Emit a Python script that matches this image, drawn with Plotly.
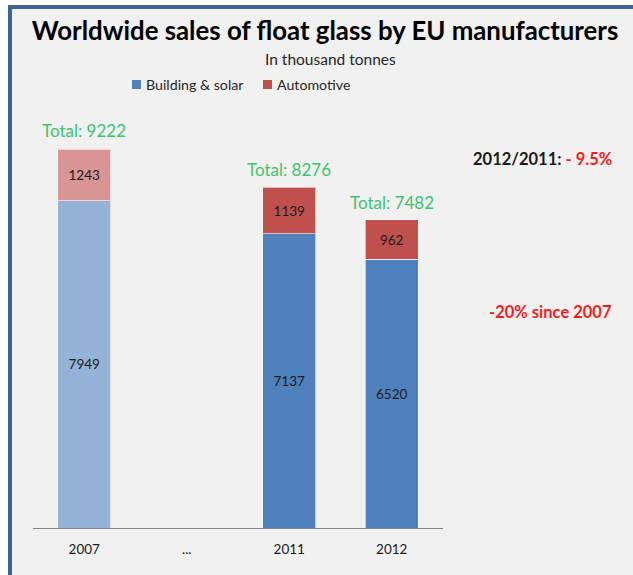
import plotly.graph_objects as go

categories = ["2007", "...", "2011", "2012"]
building_solar = [7949, None, 7137, 6520]
automotive = [1243, None, 1139, 962]
totals = [9222, None, 8276, 7482]
title_text = "Worldwide sales of float glass by EU manufacturers"
subtitle_text = "In thousand tonnes"
note_yoy = ("2012/2011: ", "- 9.5%")
note_since = "-20% since 2007"

FONT = "Lato, 'Open Sans', sans-serif"
W, H = 633, 575
PL, PR, PT, PB = 33, 443, 110, 528  # plot area pixels
YMAX = 10146

def px(x):
    return (x - PL) / (PR - PL)

def py(y):
    return (PB - y) / (PB - PT)

blue_cols = ["#95b3d7", "#4f81bd", "#4f81bd", "#4f81bd"]
red_cols = ["#d99594", "#c0504d", "#c0504d", "#c0504d"]
xs = list(range(len(categories)))

fig = go.Figure()
fig.add_trace(go.Bar(
    x=xs, y=building_solar, name="Building & solar",
    marker=dict(color=blue_cols, line=dict(color="rgba(255,255,255,0.6)", width=1)),
    text=[str(v) if v else "" for v in building_solar], textposition="inside",
    insidetextanchor="middle", textangle=0, constraintext="none",
    textfont=dict(family=FONT, size=13.5, color="#1a1a1a"), width=0.52, showlegend=False,
))
fig.add_trace(go.Bar(
    x=xs, y=automotive, name="Automotive",
    marker=dict(color=red_cols, line=dict(color="rgba(255,255,255,0.6)", width=1)),
    text=[str(v) if v else "" for v in automotive], textposition="inside",
    insidetextanchor="middle", textangle=0, constraintext="none",
    textfont=dict(family=FONT, size=13.5, color="#1a1a1a"), width=0.52, showlegend=False,
))

annotations = []
for i, t in enumerate(totals):
    if t:
        annotations.append(dict(x=i, y=t, xref="x", yref="y", text=f"Total: {t}",
                                showarrow=False, yanchor="bottom", yshift=5,
                                font=dict(family=FONT, size=17, color="#3cc46c")))

annotations.append(dict(x=px(330), y=py(59), xref="paper", yref="paper", text=subtitle_text,
                        showarrow=False, xanchor="center", yanchor="middle",
                        font=dict(family=FONT, size=15.5, color="#262626")))
# legend
leg = [("Building & solar", "#4f81bd", 132), ("Automotive", "#c0504d", 263)]
shapes = [
    dict(type="rect", xref="paper", yref="paper", x0=px(12), x1=px(W), y0=py(H), y1=py(9),
         fillcolor="#f1f1f1", line=dict(width=0), layer="below"),
    dict(type="rect", xref="paper", yref="paper", x0=px(8), x1=px(W), y0=py(9), y1=py(5),
         fillcolor="#3f6496", line=dict(width=0), layer="below"),
    dict(type="rect", xref="paper", yref="paper", x0=px(8), x1=px(12), y0=py(H), y1=py(5),
         fillcolor="#3f6496", line=dict(width=0), layer="below"),
]
for name, col, x0 in leg:
    shapes.append(dict(type="rect", xref="paper", yref="paper", x0=px(x0), x1=px(x0 + 9),
                       y0=py(89), y1=py(80), fillcolor=col, line=dict(width=0)))
    annotations.append(dict(x=px(x0 + 12), y=py(84), xref="paper", yref="paper", text=name,
                            showarrow=False, xanchor="left", yanchor="middle",
                            font=dict(family=FONT, size=14.2, color="#262626")))

annotations.append(dict(x=px(614), y=py(159), xref="paper", yref="paper",
                        text=f"<b>{note_yoy[0]}<span style='color:#ff1a1a'>{note_yoy[1]}</span></b>",
                        showarrow=False, xanchor="right", yanchor="middle",
                        font=dict(family=FONT, size=16.5, color="#1a1a1a")))
annotations.append(dict(x=px(614), y=py(312), xref="paper", yref="paper",
                        text=f"<b>{note_since}</b>",
                        showarrow=False, xanchor="right", yanchor="middle",
                        font=dict(family=FONT, size=16.5, color="#ff1a1a")))

fig.update_layout(
    width=W, height=H, barmode="stack",
    margin=dict(l=PL, r=W - PR, t=PT, b=H - PB, pad=0),
    paper_bgcolor="white", plot_bgcolor="rgba(0,0,0,0)",
    title=dict(text=f"<b>{title_text}</b>", x=325 / W, y=1 - 31 / H, xref="container", yref="container",
               xanchor="center", yanchor="middle", font=dict(family=FONT, size=25.8, color="black")),
    xaxis=dict(tickmode="array", tickvals=xs, ticktext=categories, range=[-0.5, 3.5],
               showline=True, linecolor="#868686", linewidth=1, showgrid=False, zeroline=False,
               ticks="", ticklabelstandoff=9, tickfont=dict(family=FONT, size=13.5, color="#1a1a1a")),
    yaxis=dict(range=[0, YMAX], visible=False, showgrid=False, zeroline=False),
    annotations=annotations, shapes=shapes, showlegend=False,
    bargap=0.48,
)
fig.write_html("out.html")
